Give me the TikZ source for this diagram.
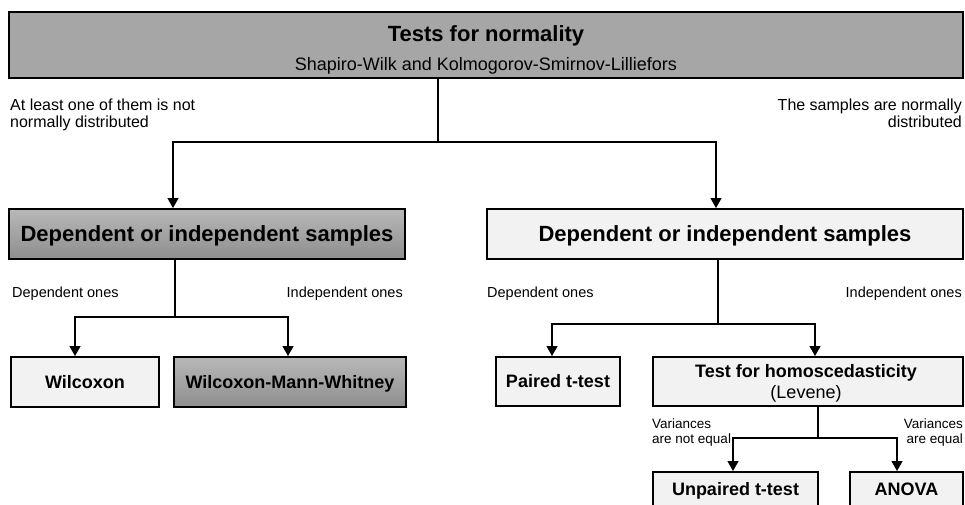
\documentclass[tikz,border=0pt]{standalone}
\usepackage{fontspec}
\setmainfont{Liberation Sans}
\usetikzlibrary{arrows.meta,calc}
\definecolor{topgray}{HTML}{A6A6A6}
\definecolor{lightfill}{HTML}{F2F2F2}
\definecolor{gtop}{HTML}{B8B8B8}
\definecolor{gbot}{HTML}{8E8E8E}
\begin{document}
\begin{tikzpicture}[x=1pt,y=-1pt,
  box/.style={draw=black, line width=2pt, inner sep=0pt, text height=12.9pt, text depth=0pt,
    font=\fontsize{18}{21}\selectfont\bfseries},
  lightbox/.style={box, fill=lightfill},
  darkbox/.style={box, top color=gtop, bottom color=gbot},
  bigtext/.style={font=\fontsize{22}{26}\selectfont\bfseries, text height=15.8pt},
  conn/.style={line width=1.3pt, draw=black},
  arr/.style={conn, -{Triangle[width=11pt,length=10pt]}},
  toplbl/.style={inner sep=0pt, font=\fontsize{16}{19}\selectfont},
  deplbl/.style={inner sep=0pt, font=\fontsize{14.5}{17}\selectfont},
  varlbl/.style={inner sep=0pt, font=\fontsize{13.5}{15}\selectfont},
  txt/.style={inner sep=0pt, anchor=base}
]
\useasboundingbox (0,0) rectangle (965,504);
\clip (0,0) rectangle (965,504);

% top box
\node[box, fill=topgray, minimum width=954pt, minimum height=66pt] (top) at (486,45) {};
\node[txt, font=\fontsize{22}{26}\selectfont\bfseries] (title) at (486,41) {Tests for normality};
\node[txt, font=\fontsize{18}{21}\selectfont] (sub) at (486,70) {Shapiro-Wilk and Kolmogorov-Smirnov-Lilliefors};

\node[toplbl, anchor=base west] (nn1) at (10,110) {At least one of them is not};
\node[toplbl, anchor=base west] (nn2) at (10,127) {normally distributed};
\node[toplbl, anchor=base east] (nd1) at (962,110) {The samples are normally};
\node[toplbl, anchor=base east] (nd2) at (962,127) {distributed};

% second level
\node[darkbox, bigtext, minimum width=396pt, minimum height=50pt] (ldep) at (207,234) {Dependent or independent samples};
\node[lightbox, bigtext, minimum width=476pt, minimum height=50pt] (rdep) at (725,234) {Dependent or independent samples};

\coordinate (j1) at (438,142);
\draw[conn] (top.south -| j1) -- (j1);
\draw[arr] (j1) -| ([xshift=165pt]ldep.north west);
\draw[arr] (j1) -| ([xshift=230pt]rdep.north west);

% left subtree
\node[deplbl, anchor=base west] (ldl) at (12,297) {Dependent ones};
\node[deplbl, anchor=base east] (lil) at (403,297) {Independent ones};
\node[lightbox, minimum width=148pt, minimum height=50pt] (wil) at (85,382) {Wilcoxon};
\node[darkbox, minimum width=232pt, minimum height=50pt] (wmw) at (290,382) {Wilcoxon-Mann-Whitney};
\coordinate (j2) at (175,317);
\draw[conn] (ldep.south -| j2) -- (j2);
\draw[arr] (j2) -| ([xshift=65pt]wil.north west);
\draw[arr] (j2) -| ([xshift=115pt]wmw.north west);

% right subtree
\node[deplbl, anchor=base west] (rdl) at (487,297) {Dependent ones};
\node[deplbl, anchor=base east] (ril) at (962,297) {Independent ones};
\node[lightbox, minimum width=124pt, minimum height=49pt] (paired) at (558,381.5) {Paired t-test};
\node[lightbox, minimum width=310pt, minimum height=49pt] (homo) at (808,381.5) {};
\node[txt, font=\fontsize{18}{21}\selectfont\bfseries] (homot) at (806,377) {Test for homoscedasticity};
\node[txt, font=\fontsize{18}{21}\selectfont] (homol) at (806,398) {(Levene)};
\coordinate (j3) at (718,324);
\draw[conn] (rdep.south -| j3) -- (j3);
\draw[arr] (j3) -| ([xshift=57pt]paired.north west);
\draw[arr] (j3) -| ([xshift=163pt]homo.north west);

% third level
\node[varlbl, anchor=base west] (vn1) at (652,428) {Variances};
\node[varlbl, anchor=base west] (vn2) at (652,443) {are not equal};
\node[varlbl, anchor=base east] (ve1) at (963,428) {Variances};
\node[varlbl, anchor=base east] (ve2) at (963,443) {are equal};
\node[lightbox, minimum width=165pt, minimum height=35pt] (unp) at (735.5,489.5) {Unpaired t-test};
\node[lightbox, minimum width=113pt, minimum height=35pt] (anova) at (906.5,489.5) {ANOVA};
\coordinate (j4) at (818,438);
\draw[conn] (homo.south -| j4) -- (j4);
\draw[arr] (j4) -| ([xshift=81pt]unp.north west);
\draw[arr] (j4) -| ([xshift=48pt]anova.north west);
\end{tikzpicture}
\end{document}
